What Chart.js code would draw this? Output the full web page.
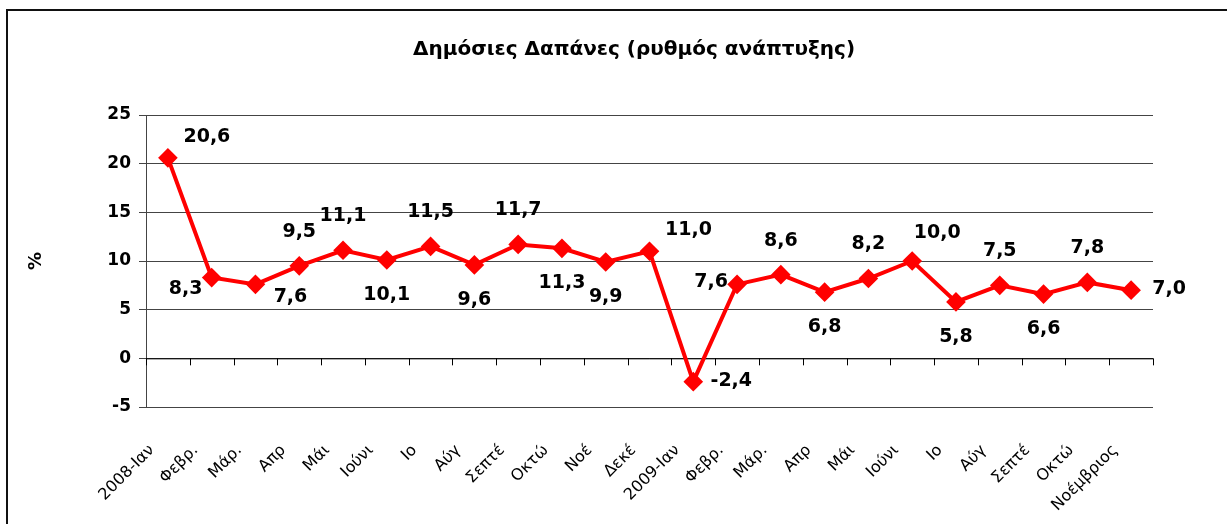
<!DOCTYPE html>
<html>
<head>
<meta charset="utf-8">
<script src="https://cdn.jsdelivr.net/npm/chart.js@4"></script>
<style>
  body { margin: 0; background: #fff; }
  canvas { display: block; }
</style>
</head>
<body>
<canvas id="lineChart" width="1227" height="524"></canvas>
<script>
const months = ['2008-Ιαν', 'Φεβρ.', 'Μάρ.', 'Απρ', 'Μάι', 'Ιούνι', 'Ιο', 'Αύγ', 'Σεπτέ', 'Οκτώ', 'Νοέ', 'Δεκέ',
                '2009-Ιαν', 'Φεβρ.', 'Μάρ.', 'Απρ', 'Μάι', 'Ιούνι', 'Ιο', 'Αύγ', 'Σεπτέ', 'Οκτώ', 'Νοέμβριος'];
const growth = [20.6, 8.3, 7.6, 9.5, 11.1, 10.1, 11.5, 9.6, 11.7, 11.3, 9.9, 11.0,
                -2.4, 7.6, 8.6, 6.8, 8.2, 10.0, 5.8, 7.5, 6.6, 7.8, 7.0];
const yTicks = [-5, 0, 5, 10, 15, 20, 25];

// where each value label sits relative to its point
const labelPos = ['ne', 'sw', 'se', 'n', 'n', 's', 'n', 's', 'n', 's', 's', 'ne',
                  'e', 'w', 'n', 's', 'n', 'nne', 's', 'n', 's', 'n', 'e'];
const offsets = {
    n: [0, -34], s: [0, 35], ne: [39, -21], nne: [25, -28], sw: [-26, 12], se: [35, 13], e: [38, -1], w: [-26, -2]
};

const FONT = '"DejaVu Sans", sans-serif';

const extras = {
    id: 'extras',
    beforeDatasetsDraw(chart) {
        // zero axis line with category tick marks
        const ctx = chart.ctx;
        const area = chart.chartArea;
        const y0 = chart.scales.y.getPixelForValue(0);
        const n = months.length;
        const step = (area.right - area.left) / n;
        ctx.save();
        ctx.strokeStyle = '#000';
        ctx.lineWidth = 1;
        ctx.beginPath();
        ctx.moveTo(area.left, y0 + 0.5);
        ctx.lineTo(area.right, y0 + 0.5);
        for (let i = 0; i <= n; i++) {
            const x = Math.round(area.left + i * step) + 0.5;
            ctx.moveTo(x, y0);
            ctx.lineTo(x, y0 + 7);
        }
        ctx.stroke();
        ctx.restore();
    },
    afterDraw(chart) {
        const ctx = chart.ctx;
        ctx.save();
        // outer frame
        ctx.strokeStyle = '#111';
        ctx.lineWidth = 2;
        ctx.beginPath();
        ctx.moveTo(7, 524);
        ctx.lineTo(7, 10);
        ctx.lineTo(1227, 10);
        ctx.stroke();

        // title
        ctx.fillStyle = '#000';
        ctx.font = 'bold 20px ' + FONT;
        ctx.textAlign = 'center';
        ctx.textBaseline = 'middle';
        ctx.fillText('Δημόσιες Δαπάνες (ρυθμός ανάπτυξης)', 634, 50);

        // value labels
        ctx.font = 'bold 19px ' + FONT;
        const meta = chart.getDatasetMeta(0);
        meta.data.forEach((pt, i) => {
            const o = offsets[labelPos[i]];
            const txt = growth[i].toFixed(1).replace('.', ',');
            ctx.fillText(txt, pt.x + o[0], pt.y + o[1]);
        });
        ctx.restore();
    }
};

const ctxLine = document.getElementById('lineChart').getContext('2d');
const lineChart = new Chart(ctxLine, {
    type: 'line',
    data: {
        labels: months,
        datasets: [{
            data: growth,
            borderColor: '#ff0000',
            backgroundColor: '#ff0000',
            borderWidth: 4,
            pointStyle: 'rectRot',
            pointRadius: 7,
            pointHoverRadius: 7,
            tension: 0
        }]
    },
    options: {
        responsive: false,
        animation: false,
        layout: {
            padding: { top: 115, right: 74, left: 0, bottom: 0 }
        },
        plugins: {
            legend: { display: false },
            tooltip: { enabled: false }
        },
        scales: {
            x: {
                offset: true,
                grid: { display: false },
                border: { display: false },
                ticks: {
                    autoSkip: false,
                    minRotation: 45,
                    maxRotation: 45,
                    padding: 26,
                    labelOffset: -16,
                    color: '#000',
                    font: { family: FONT, size: 16 }
                },
                afterFit: s => { s.height = 117; }
            },
            y: {
                min: -5,
                max: 25,
                afterBuildTicks: s => { s.ticks = yTicks.map(v => ({ value: v })); },
                grid: { color: '#444', tickLength: 7, drawTicks: true },
                border: { display: true, color: '#444' },
                ticks: {
                    padding: 8,
                    color: '#000',
                    font: { family: FONT, size: 17, weight: 'bold' }
                },
                title: {
                    display: true,
                    text: '%',
                    color: '#000',
                    padding: { top: 26 },
                    font: { family: FONT, size: 18, weight: 'bold' }
                },
                afterFit: s => { s.width = 146; }
            }
        }
    },
    plugins: [extras]
});
</script>
</body>
</html>
